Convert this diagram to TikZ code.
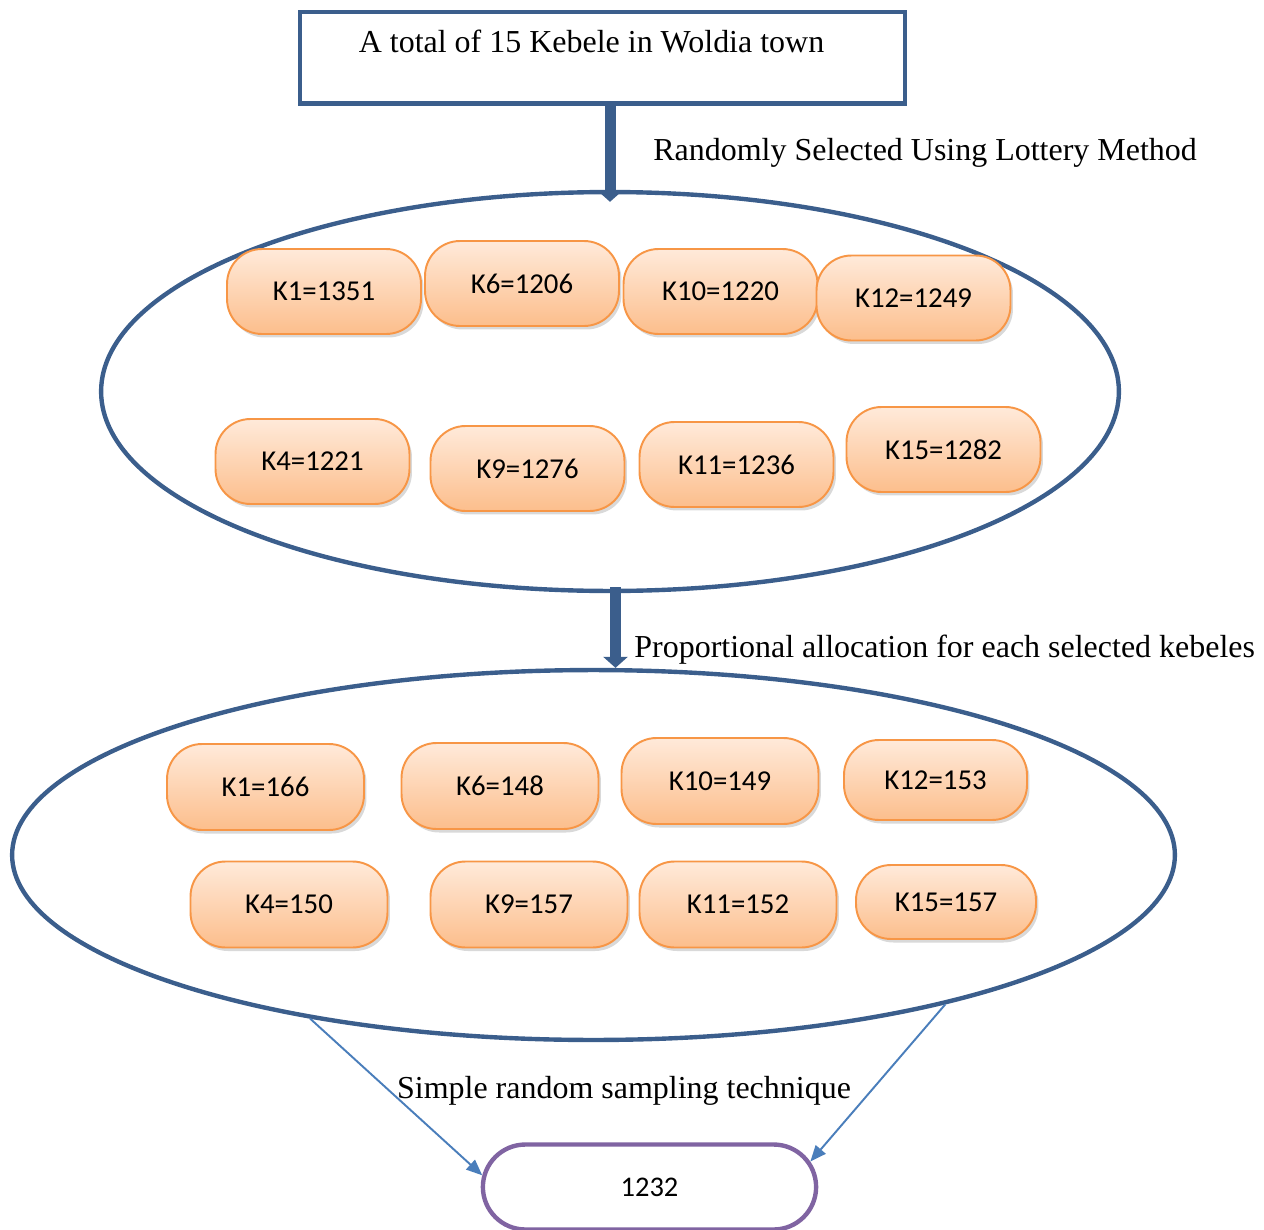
\documentclass[tikz,border=0pt]{standalone}
\usepackage{fontspec}
\setmainfont{Liberation Serif}
\newfontfamily\calibri{Carlito}
\usetikzlibrary{arrows.meta,shapes.geometric,shapes.misc,shadows}
\definecolor{ovalblue}{RGB}{59,94,140}
\definecolor{pillline}{RGB}{247,150,70}
\definecolor{pilltop}{RGB}{255,234,218}
\definecolor{pillbot}{RGB}{252,190,140}
\definecolor{linkblue}{RGB}{74,126,187}
\definecolor{sumpurple}{RGB}{128,100,162}
\begin{document}
\begin{tikzpicture}[x=0.02cm,y=-0.02cm,
	oval/.style={ellipse,draw=ovalblue,line width=2.5pt,inner sep=0pt},
	kpill/.style={rectangle,rounded corners=0.7cm,draw=pillline,line width=1.1pt,
		top color=pilltop,bottom color=pillbot,
		drop shadow={shadow xshift=0.05cm,shadow yshift=-0.07cm,opacity=0.3},
		minimum width=3.88cm,minimum height=1.7cm,font=\calibri\fontsize{16.4}{19}\selectfont},
	bigarrow/.style={draw=ovalblue,line width=0.22cm,-{Triangle[width=0.48cm,length=0.22cm]}},
	link/.style={draw=linkblue,line width=1.1pt,-{Triangle[width=0.26cm,length=0.32cm]}},
	note/.style={font=\fontsize{18.2}{21}\selectfont}]
\useasboundingbox (0,0) rectangle (1264,1230);

\node[draw=ovalblue,line width=2.5pt,minimum width=12.1cm,anchor=north,inner ysep=0pt,
	text height=23pt,text depth=29pt,note] (town) at (602.5,10) {\hspace*{-0.44cm}A total of 15 Kebele in Woldia town};

\node[oval,minimum width=20.36cm,minimum height=7.98cm] (sel) at (610,391.5) {};
\node[oval,minimum width=23.26cm,minimum height=7.4cm] (alloc) at (593.5,855) {};

\foreach \x/\y/\n/\v in {324/291.5/1/1351,522/283.5/6/1206,720.5/291.5/10/1220,913.5/298/12/1249,
	312.5/461.5/4/1221,527.5/468.5/9/1276,736.5/464.5/11/1236,943.5/449.5/15/1282}
	\node[kpill] (sel\n) at (\x,\y) {K\n=\v};

\foreach \x/\y/\n/\v/\w/\h in {265.5/787/1/166/3.94/1.72,500/786/6/148/3.94/1.72,
	720/781/10/149/3.94/1.72,935.5/780/12/153/3.66/1.6,289/904.5/4/150/3.94/1.72,
	529/904.5/9/157/3.94/1.72,738/904.5/11/152/3.94/1.72,946/902/15/157/3.6/1.48}
	\node[kpill,minimum width=\w cm,minimum height=\h cm] (alloc\n) at (\x,\y) {K\n=\v};

\node[rounded rectangle,draw=sumpurple,line width=2.5pt,minimum width=6.9cm,minimum height=1.7cm,
	font=\calibri\fontsize{16.2}{19}\selectfont] (total) at (649.5,1187) {1232};

\draw[bigarrow,shorten >=-0.24cm] (sel.north |- town.south) -- (sel.north);
\draw[bigarrow] ([xshift=0.11cm,yshift=0.12cm]sel.south) -- ([xshift=0.11cm]sel.south |- alloc.north);
\draw[link] (alloc.210.3) -- (total.176);
\draw[link] (alloc.337.6) -- (total.9);

\node[note,anchor=west,inner sep=0pt] (lottery) at (653,153) {Randomly Selected Using Lottery Method};
\node[note,anchor=west,inner sep=0pt] (propo) at (634,650) {Proportional allocation for each selected kebeles};
\node[note] (srs) at (624,1091) {Simple random sampling technique};
\end{tikzpicture}
\end{document}
